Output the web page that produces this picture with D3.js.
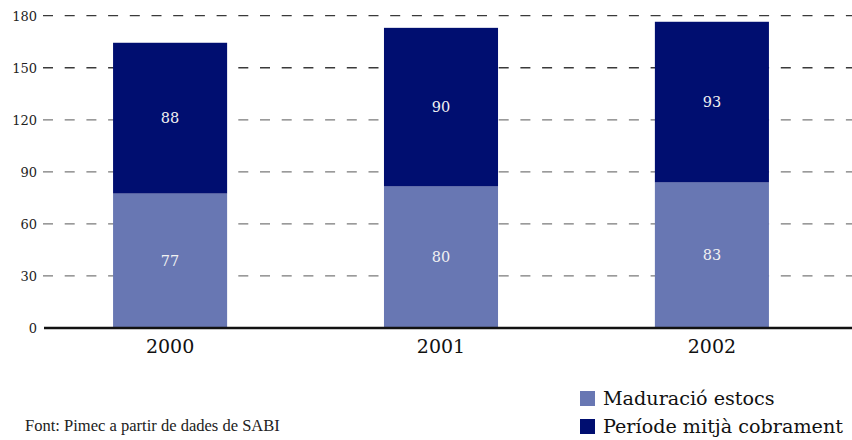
<!DOCTYPE html>
<html><head><meta charset="utf-8">
<script src="https://cdn.jsdelivr.net/npm/d3@7"></script>
<style>body{margin:0;background:#fff}svg{display:block}</style>
</head><body>
<script>
const years = ["2000", "2001", "2002"];
const estocs = [77.5, 81.6, 83.9];        // bar heights
const cobrament = [86.9, 91.4, 92.6];
const estocsLabels = ["77", "80", "83"];  // printed labels
const cobramentLabels = ["88", "90", "93"];
const yTicks = [0, 30, 60, 90, 120, 150, 180];
const seriesNames = ["Maduració estocs", "Període mitjà cobrament"];
const colors = ["#6877b3", "#000e70"];
const sourceText = "Font: Pimec a partir de dades de SABI";

const W = 852, H = 440;
const svg = d3.select("body").append("svg").attr("width", W).attr("height", H);

const y = d3.scaleLinear().domain([0, 180]).range([328, 15.7]);
const x = d3.scaleBand().domain(years).range([34.5, 847.5]).paddingInner(0.579).paddingOuter(0.29);

function fitText(sel, targetW) {
  const n = sel.node();
  const w = n.getComputedTextLength();
  const fs = parseFloat(sel.attr("font-size"));
  sel.attr("font-size", fs * targetW / w);
}

// grid
const grid = svg.append("g");
yTicks.filter(t => t > 0).forEach(t => {
  grid.append("line").attr("x1", 43).attr("x2", W).attr("y1", y(t)).attr("y2", y(t))
    .attr("stroke", t >= 150 ? "#3a3a3a" : "#7a7a7a").attr("stroke-width", 1.3)
    .attr("stroke-dasharray", "10,11.7");
});

// y labels
const yAxis = d3.axisLeft(y).tickValues(yTicks).tickSize(0).tickPadding(0);
const ga = svg.append("g").attr("transform", "translate(37,0)").call(yAxis);
ga.select(".domain").remove();
ga.selectAll("text").attr("font-family", "DejaVu Serif").attr("font-size", 13).attr("fill", "#222").attr("dy", "0.36em");

// bars
const stackData = years.map((yr, i) => ({year: yr, a: estocs[i], b: cobrament[i], la: estocsLabels[i], lb: cobramentLabels[i]}));
const bw = x.bandwidth();
const g = svg.append("g");
stackData.forEach(d => {
  g.append("rect").attr("x", x(d.year)).attr("width", bw).attr("y", y(d.a)).attr("height", y(0) - y(d.a)).attr("fill", colors[0]);
  g.append("rect").attr("x", x(d.year)).attr("width", bw).attr("y", y(d.a + d.b)).attr("height", y(d.a) - y(d.a + d.b)).attr("fill", colors[1]);
  g.append("text").attr("x", x(d.year) + bw / 2).attr("y", (y(0) + y(d.a)) / 2).attr("dy", "0.36em")
    .attr("text-anchor", "middle").attr("font-family", "DejaVu Serif").attr("font-size", 14.5).attr("fill", "#f2f2f2").text(d.la);
  g.append("text").attr("x", x(d.year) + bw / 2).attr("y", (y(d.a) + y(d.a + d.b)) / 2).attr("dy", "0.36em")
    .attr("text-anchor", "middle").attr("font-family", "DejaVu Serif").attr("font-size", 14.5).attr("fill", "#f2f2f2").text(d.lb);
});

// x axis
svg.append("line").attr("x1", 44).attr("x2", W).attr("y1", 328).attr("y2", 328).attr("stroke", "#111").attr("stroke-width", 2.5);
const xAxis = d3.axisBottom(x).tickSize(0).tickPadding(0);
const gx = svg.append("g").attr("transform", "translate(0,353)").call(xAxis);
gx.select(".domain").remove();
gx.selectAll("text").attr("font-family", "DejaVu Serif").attr("font-size", 19).attr("fill", "#111").attr("dy", 0);

// legend
seriesNames.forEach((n, i) => {
  const ly = 391 + i * 28;
  svg.append("rect").attr("x", 580).attr("y", ly).attr("width", 15).attr("height", 15).attr("fill", colors[i]);
  const t = svg.append("text").attr("x", 603).attr("y", ly + 14).attr("font-family", "DejaVu Serif").attr("font-size", 18)
    .attr("fill", "#111").text(n);
  if (i === 1) fitText(t, 240);
});
// make both legend texts same size
const lts = svg.selectAll("text").filter(function(){ return seriesNames.includes(this.textContent); });
const lfs = d3.select(lts.nodes()[1]).attr("font-size");
lts.attr("font-size", lfs);

const src = svg.append("text").attr("x", 25).attr("y", 431).attr("font-family", "Liberation Serif").attr("font-size", 15)
  .attr("fill", "#222").text(sourceText);
fitText(src, 255);
</script>
</body></html>
